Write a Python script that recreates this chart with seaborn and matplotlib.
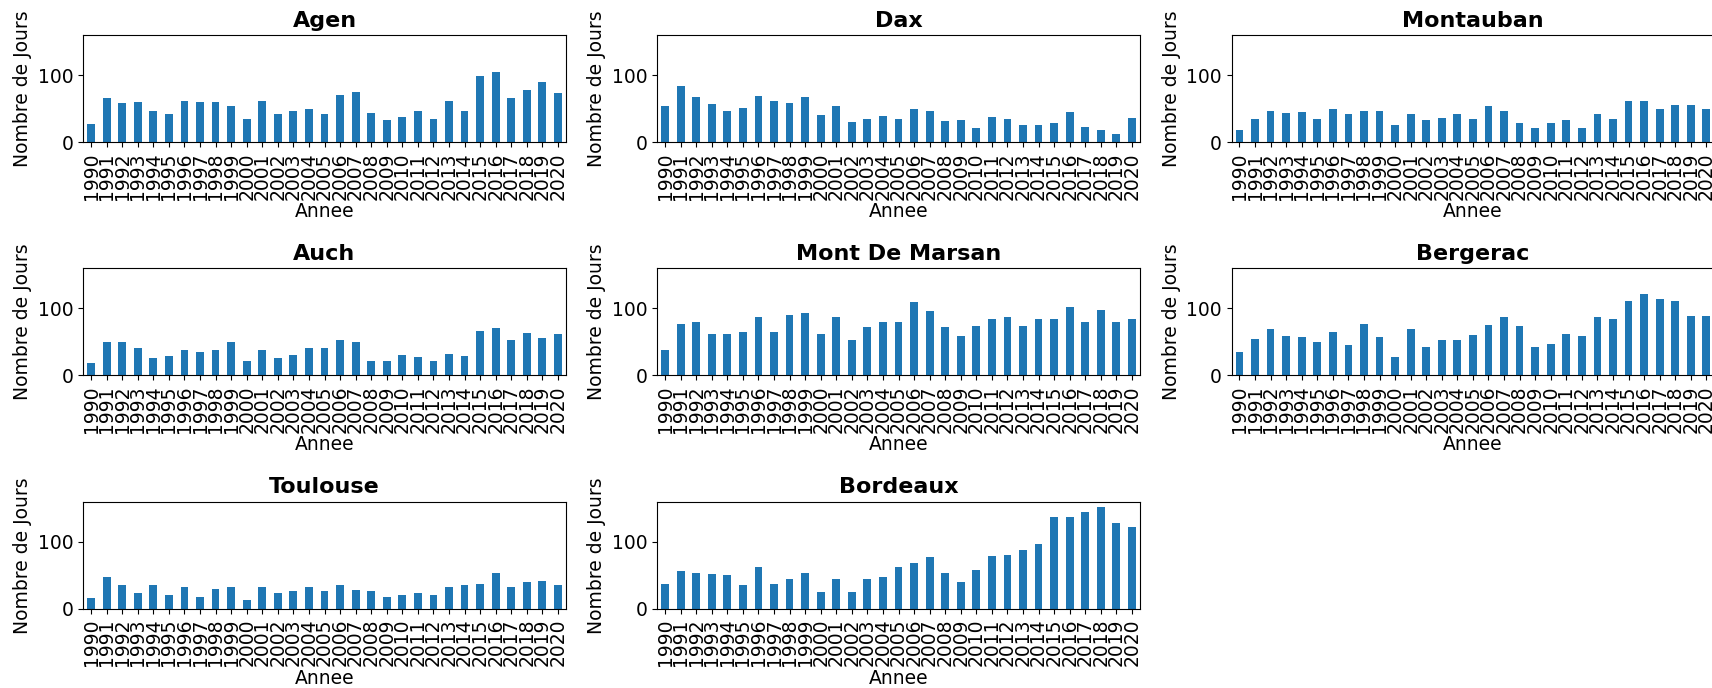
import matplotlib
matplotlib.use("Agg")
import matplotlib.pyplot as plt
import seaborn as sns
import pandas as pd

years = [str(y) for y in range(1990, 2021)]

stations = ["Agen", "Dax", "Montauban", "Auch", "Mont De Marsan",
            "Bergerac", "Toulouse", "Bordeaux"]

agen = [27, 66, 58, 60, 46, 42, 62, 60, 60, 54, 34, 62, 42, 46, 50, 42,
        71, 75, 43, 33, 38, 47, 35, 62, 46, 98, 105, 66, 78, 90, 73]
dax = [54, 83, 67, 57, 46, 51, 69, 62, 58, 67, 41, 54, 30, 34, 39, 34,
       50, 47, 32, 33, 22, 38, 34, 25, 26, 29, 45, 23, 19, 12, 36]
montauban = [19, 35, 47, 43, 45, 34, 50, 42, 46, 47, 25, 42, 33, 36, 42, 35,
             54, 47, 29, 22, 29, 33, 22, 42, 35, 62, 61, 50, 56, 55, 50]
auch = [19, 49, 49, 40, 26, 29, 38, 34, 37, 49, 22, 37, 26, 30, 41, 41,
        52, 49, 22, 22, 30, 27, 22, 31, 29, 66, 70, 53, 63, 56, 61]
mont_de_marsan = [38, 76, 80, 61, 62, 65, 86, 65, 89, 92, 61, 86, 52, 72, 80, 80,
                  109, 95, 72, 59, 74, 84, 86, 74, 83, 84, 101, 80, 97, 79, 83]
bergerac = [34, 54, 69, 58, 57, 50, 65, 45, 76, 57, 27, 69, 42, 53, 53, 60,
            75, 86, 73, 42, 47, 61, 58, 87, 84, 111, 121, 114, 110, 88, 88]
toulouse = [17, 47, 35, 24, 35, 21, 33, 18, 30, 33, 13, 32, 24, 27, 33, 27,
            36, 29, 27, 18, 21, 24, 21, 33, 35, 37, 54, 33, 40, 42, 35]
bordeaux = [37, 57, 54, 52, 51, 36, 63, 37, 45, 54, 25, 45, 26, 44, 48, 63,
            69, 77, 54, 40, 58, 79, 81, 88, 97, 137, 137, 144, 152, 128, 122]

series = [agen, dax, montauban, auch, mont_de_marsan, bergerac, toulouse, bordeaux]

W, H = 1712, 688
fig = plt.figure(figsize=(W / 100, H / 100), dpi=100)

col_left = [83.3, 657.3, 1231.7]
row_top = [35.0, 268.0, 501.7]
ax_w, ax_h = 482.4, 107.3

axes = []
for i, (name, vals) in enumerate(zip(stations, series)):
    r, c = divmod(i, 3)
    rect = [col_left[c] / W, (H - row_top[r] - ax_h) / H, ax_w / W, ax_h / H]
    ax = fig.add_axes(rect, sharey=axes[0] if axes else None)
    df = pd.DataFrame({"Annee": years, "Jours": vals})
    sns.barplot(data=df, x="Annee", y="Jours", ax=ax, color="#1f77b4",
                saturation=1, width=0.5, linewidth=0)
    ax.set_title(name, fontsize=16, fontweight="bold")
    ax.set_xlabel("Annee", fontsize=13.5, labelpad=2)
    ax.set_ylabel("Nombre de Jours", fontsize=13.5)
    ax.tick_params(axis="x", labelrotation=90, labelsize=13.5)
    ax.tick_params(axis="y", labelsize=13.5)
    ax.set_xlim(-0.5, len(years) - 0.5)
    axes.append(ax)

ymax = max(max(v) for v in series)
axes[0].set_ylim(0, ymax * 1.05)
axes[0].set_yticks([0, 100])

fig.savefig("out.png", dpi=100)
